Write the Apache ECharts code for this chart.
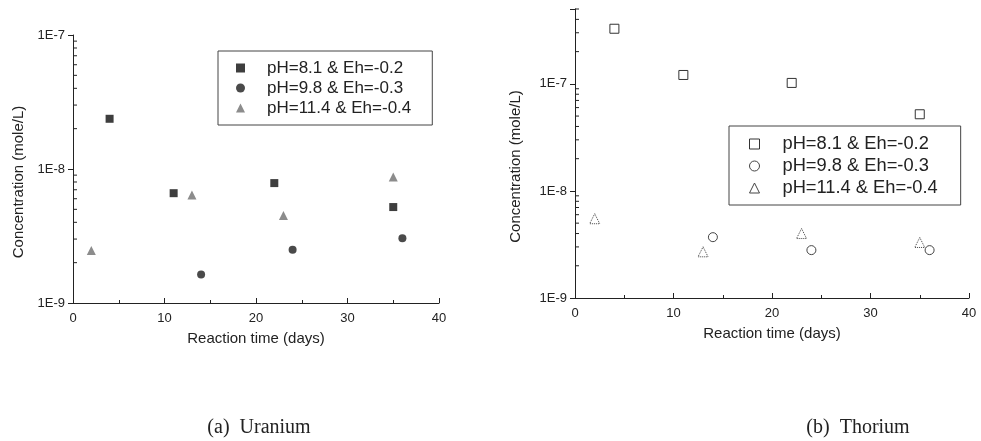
<!DOCTYPE html>
<html>
<head>
<meta charset="utf-8">
<script src="https://cdn.jsdelivr.net/npm/echarts@6.0.0/dist/echarts.min.js"></script>
<style>
  html, body { margin: 0; padding: 0; background: #fff; }
  #chart { width: 981px; height: 441px; }
</style>
</head>
<body>
<div id="chart"></div>
<script>
// legend labels (same for both panels)
const labels = ['pH=8.1 & Eh=-0.2', 'pH=9.8 & Eh=-0.3', 'pH=11.4 & Eh=-0.4'];

// (a) Uranium: [days, mole/L]
const uSeries1 = [[4, 2.37e-8], [11, 6.6e-9], [22, 7.85e-9], [35, 5.2e-9]];
const uSeries2 = [[14, 1.63e-9], [24, 2.5e-9], [36, 3.04e-9]];
const uSeries3 = [[2, 2.47e-9], [13, 6.4e-9], [23, 4.5e-9], [35, 8.7e-9]];

// (b) Thorium
const thSeries1 = [[4, 3.27e-7], [11, 1.21e-7], [22, 1.02e-7], [35, 5.2e-8]];
const thSeries2 = [[14, 3.7e-9], [24, 2.8e-9], [36, 2.8e-9]];
const thSeries3 = [[2, 5.5e-9], [13, 2.7e-9], [23, 4.0e-9], [35, 3.3e-9]];

const captions = ['(a)  Uranium', '(b)  Thorium'];

// minor tick values for the log axes (2..9 per decade)
function minorTicks(lo, hi) {
  const out = [];
  for (let e = lo; e < hi; e++) {
    for (let m = 2; m <= 9; m++) {
      out.push([0, m * Math.pow(10, e)]);
    }
  }
  return out;
}
const uMinor = minorTicks(-9, -7);
const thMinor = minorTicks(-9, -6).filter(d => d[1] <= 5e-7);

const chart = echarts.init(document.getElementById('chart'));
const font = 'Liberation Sans, Arial, sans-serif';
const serif = 'Liberation Serif, Times New Roman, serif';

function xAxis(gridIndex) {
  return {
    type: 'value', gridIndex: gridIndex, min: 0, max: 40, interval: 10,
    name: 'Reaction time (days)', nameLocation: 'middle', nameGap: 28,
    nameTextStyle: { fontFamily: font, fontSize: 15, color: '#222' },
    axisLine: { onZero: false, lineStyle: { color: '#222', width: 1 } },
    axisTick: { inside: true, length: 5, lineStyle: { color: '#222' } },
    minorTick: { show: true, splitNumber: 2, length: 3, lineStyle: { color: '#222' } },
    axisLabel: { fontFamily: font, fontSize: 13, color: '#222', margin: 9 },
    splitLine: { show: false }
  };
}

function yAxis(gridIndex, max, gap) {
  return {
    type: 'log', logBase: 10, gridIndex: gridIndex, min: 1e-9, max: max,
    name: 'Concentration (mole/L)', nameLocation: 'middle', nameGap: gap,
    nameTextStyle: { fontFamily: font, fontSize: 15, color: '#222', padding: [0, 26, 0, 0] },
    axisLine: { show: true, lineStyle: { color: '#222', width: 1 } },
    axisTick: { show: true, inside: false, length: 5, lineStyle: { color: '#222' } },
    axisLabel: {
      fontFamily: font, fontSize: 13, color: '#222', margin: 8,
      formatter: function (v) {
        const e = Math.log10(v);
        if (Math.abs(e - Math.round(e)) > 1e-6) return '';
        return '1E' + Math.round(e);
      }
    },
    splitLine: { show: false }
  };
}

function minorSeries(idx, data) {
  return {
    type: 'custom', xAxisIndex: idx, yAxisIndex: idx, silent: true, clip: false,
    data: data,
    renderItem: function (params, api) {
      const p = api.coord([api.value(0), api.value(1)]);
      return {
        type: 'line',
        shape: { x1: p[0], y1: p[1], x2: p[0] + 4, y2: p[1] },
        style: { stroke: '#222', lineWidth: 1 }
      };
    }
  };
}

const option = {
  backgroundColor: '#fff',
  animation: false,
  title: [
    { text: captions[0], left: 254, top: 413, textAlign: 'center',
      textStyle: { fontFamily: serif, fontSize: 20, fontWeight: 'normal', color: '#222' } },
    { text: captions[1], left: 853, top: 413, textAlign: 'center',
      textStyle: { fontFamily: serif, fontSize: 20, fontWeight: 'normal', color: '#222' } }
  ],
  grid: [
    { left: 73, top: 35, right: 542, bottom: 138 },
    { left: 575, top: 9, right: 12, bottom: 143 }
  ],
  xAxis: [xAxis(0), xAxis(1)],
  yAxis: [yAxis(0, 1e-7, 47), yAxis(1, 5e-7, 52)],
  legend: [
    {
      data: ['U1', 'U2', 'U3'], orient: 'vertical', left: 218, top: 51,
      padding: [7, 21, 7, 18], itemGap: 0, itemWidth: 9, itemHeight: 9,
      borderColor: '#444', borderWidth: 1, selectedMode: false,
      formatter: function (n) { return labels[+n.slice(1) - 1]; },
      textStyle: { fontFamily: font, fontSize: 17, color: '#222', lineHeight: 20, padding: [0, 0, 0, 17] }
    },
    {
      data: ['T1', 'T2', 'T3'], orient: 'vertical', left: 729, top: 126,
      padding: [7, 23, 6, 20], itemGap: 0, itemWidth: 10, itemHeight: 10,
      borderColor: '#444', borderWidth: 1, selectedMode: false,
      itemStyle: { borderWidth: 1 },
      formatter: function (n) { return labels[+n.slice(1) - 1]; },
      textStyle: { fontFamily: font, fontSize: 18.3, color: '#222', lineHeight: 22, padding: [0, 0, 0, 18] }
    }
  ],
  series: [
    { name: 'U1', type: 'scatter', xAxisIndex: 0, yAxisIndex: 0, symbol: 'rect', symbolSize: 8,
      itemStyle: { color: '#3e3e3e', opacity: 1 }, data: uSeries1 },
    { name: 'U2', type: 'scatter', xAxisIndex: 0, yAxisIndex: 0, symbol: 'circle', symbolSize: 8,
      itemStyle: { color: '#4a4a4a', opacity: 1 }, data: uSeries2 },
    { name: 'U3', type: 'scatter', xAxisIndex: 0, yAxisIndex: 0, symbol: 'triangle', symbolSize: 9,
      itemStyle: { color: '#8c8c8c', opacity: 1 }, data: uSeries3 },
    { name: 'T1', type: 'scatter', xAxisIndex: 1, yAxisIndex: 1, symbol: 'rect', symbolSize: 9,
      itemStyle: { color: '#fff', borderColor: '#333', borderWidth: 1, opacity: 1 }, data: thSeries1 },
    { name: 'T2', type: 'scatter', xAxisIndex: 1, yAxisIndex: 1, symbol: 'circle', symbolSize: 9,
      itemStyle: { color: '#fff', borderColor: '#444', borderWidth: 1, opacity: 1 }, data: thSeries2 },
    { name: 'T3', type: 'scatter', xAxisIndex: 1, yAxisIndex: 1, symbol: 'triangle', symbolSize: 10,
      itemStyle: { color: '#fff', borderColor: '#444', borderWidth: 1, borderType: 'dotted', opacity: 1 }, data: thSeries3 },
    minorSeries(0, uMinor),
    minorSeries(1, thMinor)
  ]
};

chart.setOption(option);
</script>
</body>
</html>
